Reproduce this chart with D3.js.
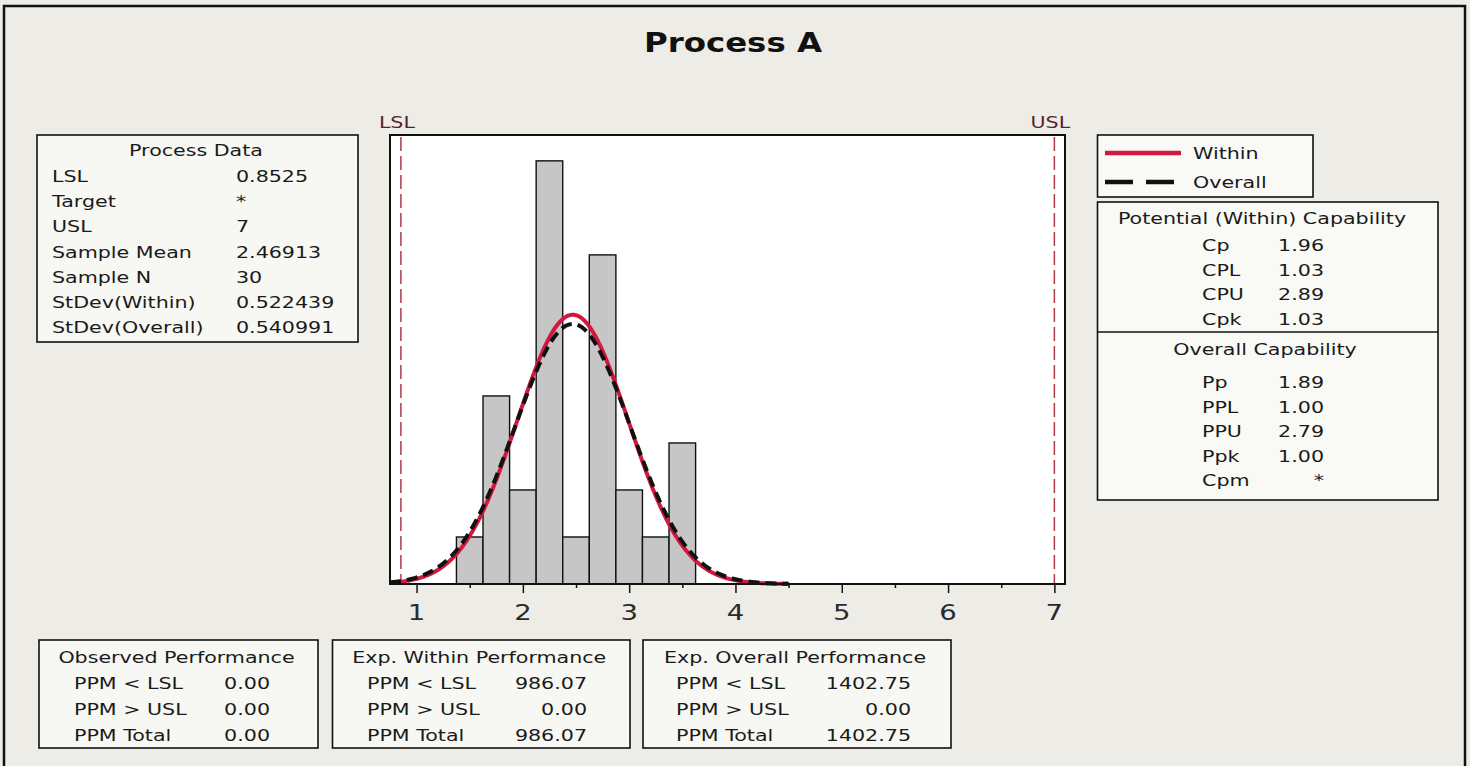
<!DOCTYPE html>
<html>
<head>
<meta charset="utf-8">
<script src="https://cdn.jsdelivr.net/npm/d3@7"></script>
<style>
  html, body { margin:0; padding:0; background:#edece6; }
  svg { display:block; font-family:"DejaVu Sans", Verdana, sans-serif; }
</style>
</head>
<body>
<svg id="chart" width="1470" height="766"></svg>
<script>
// ---- data ----
const title      = "Process A";
const specLSL    = 0.8525;
const specUSL    = 7;
const sampleMean = 2.46913;
const sampleN    = 30;
const sdWithin   = 0.522439;
const sdOverall  = 0.540991;

const binWidth  = 0.25;
const binStarts = [1.375, 1.625, 1.875, 2.125, 2.375, 2.625, 2.875, 3.125, 3.375];
const counts    = [1, 4, 2, 9, 1, 7, 2, 1, 3];
const xTicks    = [1, 2, 3, 4, 5, 6, 7];
const xMinor    = [1.5, 2.5, 3.5, 4.5, 5.5, 6.5];

const processData = [
  ["LSL", "0.8525"], ["Target", "*"], ["USL", "7"], ["Sample Mean", "2.46913"],
  ["Sample N", "30"], ["StDev(Within)", "0.522439"], ["StDev(Overall)", "0.540991"]
];
const potentialCap = [["Cp", "1.96"], ["CPL", "1.03"], ["CPU", "2.89"], ["Cpk", "1.03"]];
const overallCap   = [["Pp", "1.89"], ["PPL", "1.00"], ["PPU", "2.79"], ["Ppk", "1.00"], ["Cpm", "*"]];
const perfRows     = ["PPM < LSL", "PPM > USL", "PPM Total"];
const perfTables = [
  {name:"Observed Performance",    values:["0.00", "0.00", "0.00"]},
  {name:"Exp. Within Performance", values:["986.07", "0.00", "986.07"]},
  {name:"Exp. Overall Performance",values:["1402.75", "0.00", "1402.75"]}
];

// ---- layout ----
const SX = 1.25;                       // the report's text is stretched sideways
const svg = d3.select("#chart");
const P = {l:390, r:1065, t:135, b:584};

function txt(sel, x, y, s, o = {}){
  return sel.append("text")
    .attr("transform", `translate(${x},${y}) scale(${o.sx ?? SX},1)`)
    .attr("text-anchor", o.anchor || "start")
    .attr("font-size", o.size || 16.5)
    .attr("font-weight", o.weight || "normal")
    .attr("fill", o.fill || "#1a1a1a")
    .text(s);
}
function box(x0, y0, x1, y1, fill){
  svg.append("rect").attr("x", x0).attr("y", y0).attr("width", x1-x0).attr("height", y1-y0)
    .attr("fill", fill || "#f7f7f3").attr("stroke", "#111").attr("stroke-width", 1.6);
}

// outer frame + title
svg.append("rect").attr("x", 4).attr("y", 6).attr("width", 1461).attr("height", 764)
  .attr("fill", "#edece6").attr("stroke", "#111").attr("stroke-width", 2.5);
txt(svg, 733, 52, title, {anchor:"middle", size:27, weight:"bold", sx:1.2, fill:"#111"});

// ---- histogram ----
const x = d3.scaleLinear().domain([0.75, 7.1]).range([P.l, P.r]);
const y = d3.scaleLinear().domain([0, 9.55]).range([P.b, P.t]);

svg.append("rect").attr("x", P.l).attr("y", P.t).attr("width", P.r-P.l).attr("height", P.b-P.t)
  .attr("fill", "#ffffff");

svg.append("g").selectAll("rect").data(binStarts).join("rect")
  .attr("x", d => x(d)).attr("width", x(binWidth) - x(0))
  .attr("y", (d, i) => y(counts[i])).attr("height", (d, i) => y(0) - y(counts[i]))
  .attr("fill", "#c6c6c6").attr("stroke", "#111").attr("stroke-width", 1.4);

// spec limits
[[specLSL, "LSL"], [specUSL, "USL"]].forEach(([v, lab]) => {
  svg.append("line").attr("x1", x(v)).attr("x2", x(v)).attr("y1", P.t + 2).attr("y2", P.b)
    .attr("stroke", "#b03a4a").attr("stroke-width", 1.5).attr("stroke-dasharray", "14,5");
  txt(svg, x(v) - 4, 128, lab, {anchor:"middle", size:16.5, fill:"#5a2228"});
});

// fitted normal curves (scaled to counts)
const curveX = d3.range(0.75, 4.5001, 0.01);
const dens = sd => v => sampleN * binWidth * Math.exp(-0.5 * ((v - sampleMean) / sd) ** 2) / (sd * Math.sqrt(2 * Math.PI));
const line = f => d3.line().x(v => x(v)).y(v => y(f(v)))(curveX);
svg.append("path").attr("d", line(dens(sdWithin))).attr("fill", "none")
  .attr("stroke", "#d3183f").attr("stroke-width", 4);
svg.append("path").attr("d", line(dens(sdOverall))).attr("fill", "none")
  .attr("stroke", "#111").attr("stroke-width", 4).attr("stroke-dasharray", "11,6");

// frame + axis
svg.append("rect").attr("x", P.l).attr("y", P.t).attr("width", P.r-P.l).attr("height", P.b-P.t)
  .attr("fill", "none").attr("stroke", "#111").attr("stroke-width", 2);
const ax = svg.append("g").attr("transform", `translate(0,${P.b})`)
  .call(d3.axisBottom(x).tickValues(xTicks).tickSize(9).tickFormat(""));
ax.select(".domain").remove();
ax.selectAll("line").attr("stroke", "#111").attr("stroke-width", 1.5);
svg.append("g").attr("transform", `translate(0,${P.b})`)
  .call(d3.axisBottom(x).tickValues(xMinor).tickSize(4).tickFormat(""))
  .call(g => g.select(".domain").remove())
  .selectAll("line").attr("stroke", "#111").attr("stroke-width", 1.5);
xTicks.forEach(t => txt(svg, x(t), 620, String(t), {anchor:"middle", size:22, fill:"#2a2a2a"}));

// ---- process data box ----
box(37, 135, 358, 342);
txt(svg, 196, 156, "Process Data", {anchor:"middle"});
processData.forEach(([k, v], i) => {
  const yy = 182 + i * 25.2;
  txt(svg, 52, yy, k);
  txt(svg, 236, yy, v);
});

// ---- legend ----
box(1097.5, 135, 1313, 197, "#f9f9f6");
svg.append("line").attr("x1", 1105).attr("x2", 1181).attr("y1", 153).attr("y2", 153)
  .attr("stroke", "#d3183f").attr("stroke-width", 4.5);
svg.append("line").attr("x1", 1105).attr("x2", 1174).attr("y1", 182).attr("y2", 182)
  .attr("stroke", "#111").attr("stroke-width", 4.5).attr("stroke-dasharray", "28,13");
txt(svg, 1193, 159, "Within");
txt(svg, 1193, 188, "Overall");

// ---- capability box ----
box(1097.5, 202, 1438, 500, "#f9f9f6");
svg.append("line").attr("x1", 1097.5).attr("x2", 1438).attr("y1", 332).attr("y2", 332)
  .attr("stroke", "#111").attr("stroke-width", 1.6);
txt(svg, 1262, 224, "Potential (Within) Capability", {anchor:"middle"});
potentialCap.forEach(([k, v], i) => {
  const yy = 251 + i * 24.7;
  txt(svg, 1202, yy, k);
  txt(svg, 1324, yy, v, {anchor:"end"});
});
txt(svg, 1265, 355, "Overall Capability", {anchor:"middle"});
overallCap.forEach(([k, v], i) => {
  const yy = 388 + i * 24.6;
  txt(svg, 1202, yy, k);
  txt(svg, 1324, yy, v, {anchor:"end"});
});

// ---- performance boxes ----
const perfBoxes = [[39, 318, 74, 270], [332.5, 630, 367, 587], [643, 951, 676, 911]];
perfTables.forEach((t, j) => {
  const [x0, x1, lx, vx] = perfBoxes[j];
  box(x0, 640, x1, 748);
  txt(svg, (x0 + x1) / 2 - 2, 663, t.name, {anchor:"middle"});
  perfRows.forEach((r, i) => {
    txt(svg, lx, 689 + i * 26, r);
    txt(svg, vx, 689 + i * 26, t.values[i], {anchor:"end"});
  });
});
</script>
</body>
</html>
